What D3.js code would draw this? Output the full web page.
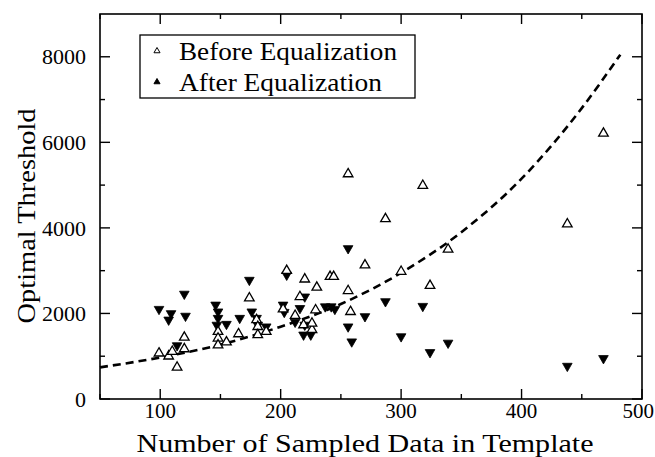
<!DOCTYPE html>
<html>
<head>
<meta charset="utf-8">
<script src="https://cdn.jsdelivr.net/npm/d3@7"></script>
<style>
  html, body { margin: 0; padding: 0; background: #fff; }
  svg { display: block; }
  text { font-family: "Liberation Serif", "Times New Roman", serif; fill: #000; }
</style>
</head>
<body>
<svg id="chart" width="655" height="457"></svg>
<script>
// ---- Data ----
const beforeX = [99, 107, 110, 114, 120, 120, 148, 148, 155, 148, 165, 174, 180, 181, 181, 188,
  205, 202, 212, 216, 219, 226, 226, 229, 220, 230, 241, 244, 256, 258, 256, 270, 287, 300, 318, 324, 339, 438, 468];
const beforeY = [1070, 1000, 1110, 740, 1170, 1440, 1575, 1420, 1330, 1260, 1520, 2360, 1850, 1690, 1500, 1575,
  3000, 2100, 1950, 2390, 1730, 1620, 1770, 2080, 2800, 2610, 2860, 2860, 2530, 2040, 5260, 3130, 4210, 2980, 4990, 2650, 3500, 4090, 6210];

const afterX = [99, 109, 107, 121, 120, 114, 146, 148, 148, 147, 155, 166, 174, 176, 180, 181, 188,
  205, 202, 203, 216, 220, 212, 220, 219, 225, 237, 242, 245, 256, 256, 259, 270, 287, 300, 318, 324, 339, 438, 468];
const afterY = [2100, 2000, 1850, 1940, 2455, 1250, 2200, 2040, 1890, 1730, 1750, 1890, 2780, 2040, 1890, 1730, 1690,
  2900, 2200, 2030, 2120, 2390, 1800, 1730, 1500, 1500, 2160, 2160, 2100, 3520, 1690, 1340, 1930, 2280, 1460, 2170, 1090, 1310, 770, 950];

// dashed fitted curve
const curveX = [50, 100, 150, 200, 250, 300, 350, 400, 450, 482];
const curveY = [740, 970, 1270, 1690, 2220, 2950, 3900, 5150, 6800, 8050];

const xTicks = [100, 200, 300, 400, 500];
const xMinor = [50, 150, 250, 350, 450];
const yTicks = [0, 2000, 4000, 6000, 8000];
const yMinor = [1000, 3000, 5000, 7000];

const legendLabels = ["Before Equalization", "After Equalization"];
const xTitle = "Number of Sampled Data in Template";
const yTitle = "Optimal Threshold";

// ---- Layout ----
const W = 655;
const L = 100, R = 642, T = 14, B = 399;
const svg = d3.select("#chart");
const x = d3.scaleLinear().domain([50, 500]).range([L, R]);
const y = d3.scaleLinear().domain([0, 9000]).range([B, T]);

// frame
svg.append("rect").attr("x", L).attr("y", T).attr("width", R - L).attr("height", B - T)
  .attr("fill", "none").attr("stroke", "#000").attr("stroke-width", 1.6);

// ticks (inward, all four sides)
const tk = svg.append("g").attr("stroke", "#000").attr("stroke-width", 1.4);
function xt(vals, len) {
  vals.forEach(v => {
    tk.append("line").attr("x1", x(v)).attr("x2", x(v)).attr("y1", B).attr("y2", B - len);
    tk.append("line").attr("x1", x(v)).attr("x2", x(v)).attr("y1", T).attr("y2", T + len);
  });
}
function yt(vals, len) {
  vals.forEach(v => {
    tk.append("line").attr("y1", y(v)).attr("y2", y(v)).attr("x1", L).attr("x2", L + len);
    tk.append("line").attr("y1", y(v)).attr("y2", y(v)).attr("x1", R).attr("x2", R - len);
  });
}
xt(xTicks, 10); xt(xMinor, 5); yt(yTicks, 10); yt(yMinor, 5);

// tick labels
const xl = svg.append("g").selectAll("text").data(xTicks).join("text")
  .attr("x", d => x(d)).attr("y", 418).attr("text-anchor", "middle")
  .attr("font-size", 21).text(d => d);
// keep the last label inside the page
xl.each(function () {
  const bb = this.getBBox();
  if (bb.x + bb.width > W - 1) {
    d3.select(this).attr("x", +d3.select(this).attr("x") - (bb.x + bb.width - (W - 1)));
  }
});
svg.append("g").selectAll("text").data(yTicks).join("text")
  .attr("x", 86).attr("y", d => y(d)).attr("dy", "0.35em").attr("text-anchor", "end")
  .attr("font-size", 22).text(d => d);

// axis titles
svg.append("text").attr("x", 365).attr("y", 452).attr("text-anchor", "middle")
  .attr("font-size", 25).attr("textLength", 457).attr("lengthAdjust", "spacingAndGlyphs").text(xTitle);
svg.append("text").attr("transform", "translate(35,216) rotate(-90)").attr("text-anchor", "middle")
  .attr("font-size", 25).attr("textLength", 215).attr("lengthAdjust", "spacingAndGlyphs").text(yTitle);

// curve
const line = d3.line().x((d, i) => x(curveX[i])).y((d, i) => y(curveY[i])).curve(d3.curveMonotoneX);
svg.append("path").datum(curveX).attr("d", line).attr("fill", "none")
  .attr("stroke", "#000").attr("stroke-width", 2.6).attr("stroke-dasharray", "8,5");

// markers
const tri = d3.symbol().type(d3.symbolTriangle).size(40);
svg.append("g").selectAll("path").data(afterX).join("path")
  .attr("d", tri)
  .attr("transform", (d, i) => `translate(${x(d)},${y(afterY[i])}) rotate(180)`)
  .attr("fill", "#000").attr("stroke", "#000").attr("stroke-width", 0.8);
svg.append("g").selectAll("path").data(beforeX).join("path")
  .attr("d", tri)
  .attr("transform", (d, i) => `translate(${x(d)},${y(beforeY[i])})`)
  .attr("fill", "#fff").attr("stroke", "#000").attr("stroke-width", 1.3);

// legend
const lg = svg.append("g");
lg.append("rect").attr("x", 140).attr("y", 35).attr("width", 275).attr("height", 63)
  .attr("fill", "#fff").attr("stroke", "#000").attr("stroke-width", 1.3);
const small = d3.symbol().type(d3.symbolTriangle).size(16);
lg.append("path").attr("d", small).attr("transform", "translate(157,51)")
  .attr("fill", "#fff").attr("stroke", "#000").attr("stroke-width", 1);
lg.append("path").attr("d", small).attr("transform", "translate(157,82)")
  .attr("fill", "#000").attr("stroke", "#000").attr("stroke-width", 1);
lg.append("text").attr("x", 179).attr("y", 60).attr("font-size", 25)
  .attr("textLength", 218).attr("lengthAdjust", "spacingAndGlyphs").text(legendLabels[0]);
lg.append("text").attr("x", 179).attr("y", 91).attr("font-size", 25)
  .attr("textLength", 203).attr("lengthAdjust", "spacingAndGlyphs").text(legendLabels[1]);
</script>
</body>
</html>
